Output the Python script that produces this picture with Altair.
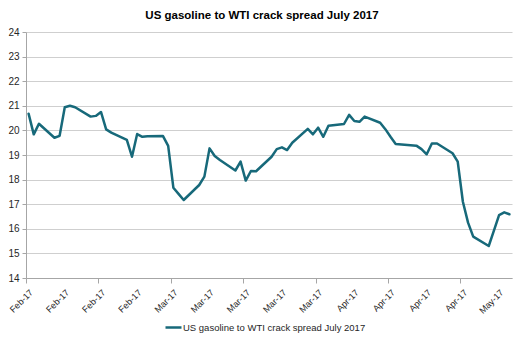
import altair as alt
import pandas as pd

series_name = "US gasoline to WTI crack spread July 2017"
chart_title = "US gasoline to WTI crack spread July 2017"

dates = [
    "2017-02-01", "2017-02-02", "2017-02-03",
    "2017-02-06", "2017-02-07", "2017-02-08", "2017-02-09", "2017-02-10",
    "2017-02-13", "2017-02-14", "2017-02-15", "2017-02-16", "2017-02-17",
    "2017-02-20", "2017-02-21", "2017-02-22", "2017-02-23", "2017-02-24",
    "2017-02-27", "2017-02-28", "2017-03-01", "2017-03-02", "2017-03-03",
    "2017-03-06", "2017-03-07", "2017-03-08", "2017-03-09", "2017-03-10",
    "2017-03-13", "2017-03-14", "2017-03-15", "2017-03-16", "2017-03-17",
    "2017-03-20", "2017-03-21", "2017-03-22", "2017-03-23", "2017-03-24",
    "2017-03-27", "2017-03-28", "2017-03-29", "2017-03-30", "2017-03-31",
    "2017-04-03", "2017-04-04", "2017-04-05", "2017-04-06", "2017-04-07",
    "2017-04-10", "2017-04-11", "2017-04-12", "2017-04-13",
    "2017-04-17", "2017-04-18", "2017-04-19", "2017-04-20", "2017-04-21",
    "2017-04-24", "2017-04-25", "2017-04-26", "2017-04-27", "2017-04-28",
    "2017-05-01", "2017-05-02", "2017-05-03", "2017-05-04", "2017-05-05",
]

values = [
    20.68, 19.84, 20.27,
    19.70, 19.78, 20.94, 21.00, 20.94,
    20.56, 20.59, 20.75, 20.04, 19.91,
    19.61, 18.93, 19.85, 19.74, 19.76,
    19.77, 19.37, 17.67, 17.42, 17.17,
    17.78, 18.12, 19.27, 18.96, 18.80,
    18.37, 18.73, 17.96, 18.35, 18.34,
    18.93, 19.24, 19.31, 19.20, 19.50,
    20.06, 19.84, 20.11, 19.74, 20.19,
    20.26, 20.63, 20.38, 20.35, 20.56,
    20.31, 20.05, 19.74, 19.45,
    19.38, 19.24, 19.03, 19.47, 19.47,
    19.07, 18.73, 17.10, 16.25, 15.68,
    15.30, 15.93, 16.56, 16.67, 16.59,
]

tick_dates = [
    "2017-02-01", "2017-02-08", "2017-02-15", "2017-02-22",
    "2017-03-01", "2017-03-08", "2017-03-15", "2017-03-22", "2017-03-29",
    "2017-04-05", "2017-04-12", "2017-04-19", "2017-04-26",
    "2017-05-03",
]
tick_labels = [
    "Feb-17", "Feb-17", "Feb-17", "Feb-17",
    "Mar-17", "Mar-17", "Mar-17", "Mar-17", "Mar-17",
    "Apr-17", "Apr-17", "Apr-17", "Apr-17",
    "May-17",
]
domain_dates = ["2017-02-01", "2017-05-06"]
y_ticks = [14, 15, 16, 17, 18, 19, 20, 21, 22, 23, 24]


def to_dt(s):
    y, m, d = (int(p) for p in s.split("-"))
    return alt.DateTime(year=y, month=m, date=d)


df = pd.DataFrame({
    "date": pd.to_datetime(dates) + pd.Timedelta(hours=12),
    "value": values,
    "series": series_name,
})
ticks_df = pd.DataFrame({"date": pd.to_datetime(tick_dates), "label": tick_labels})

line_color = "#17697A"
font = "Liberation Sans"
plot_h = 246

x_scale = alt.Scale(domain=[to_dt(d) for d in domain_dates])

line = alt.Chart(df).mark_line(
    strokeWidth=2.5, strokeJoin="round", strokeCap="round"
).encode(
    x=alt.X(
        "date:T",
        title=None,
        scale=x_scale,
        axis=alt.Axis(
            values=[to_dt(d) for d in tick_dates],
            labels=False,
            tickSize=5,
            tickColor="#A6A6A6",
            domainColor="#A6A6A6",
            grid=False,
        ),
    ),
    y=alt.Y(
        "value:Q",
        title=None,
        scale=alt.Scale(domain=[14, 24], nice=False, zero=False),
        axis=alt.Axis(
            values=y_ticks,
            labelFontSize=10,
            labelColor="#262626",
            labelFont=font,
            labelPadding=3,
            tickSize=4,
            tickColor="#A6A6A6",
            domainColor="#A6A6A6",
            gridColor="#CFCFCF",
            gridWidth=1,
        ),
    ),
    color=alt.Color(
        "series:N",
        scale=alt.Scale(range=[line_color]),
        legend=alt.Legend(
            title=None,
            orient="none",
            legendX=138,
            legendY=286,
            symbolType="stroke",
            symbolSize=256,
            symbolStrokeWidth=2.5,
            labelFontSize=9.5,
            labelFont=font,
            labelColor="#262626",
            labelOffset=0,
            labelLimit=0,
        ),
    ),
)

xlabels = alt.Chart(ticks_df).mark_text(
    angle=315,
    align="right",
    baseline="middle",
    dx=3.9,
    dy=3.9,
    font=font,
    fontSize=9,
    color="#262626",
).encode(
    x=alt.X("date:T", scale=x_scale),
    y=alt.value(plot_h + 13),
    text="label:N",
)

chart = alt.layer(line, xlabels).properties(
    width=486,
    height=plot_h,
    autosize=alt.AutoSizeParams(type="none"),
    padding={"left": 18, "top": 24, "right": 6, "bottom": 57},
    title=alt.TitleParams(
        chart_title,
        font=font,
        fontSize=11.5,
        fontWeight="bold",
        color="#000000",
        anchor="middle",
        dx=-7,
        offset=6,
    ),
).configure_view(stroke=None)

chart.save("out.html", embed_options={"renderer": "svg", "actions": False})
